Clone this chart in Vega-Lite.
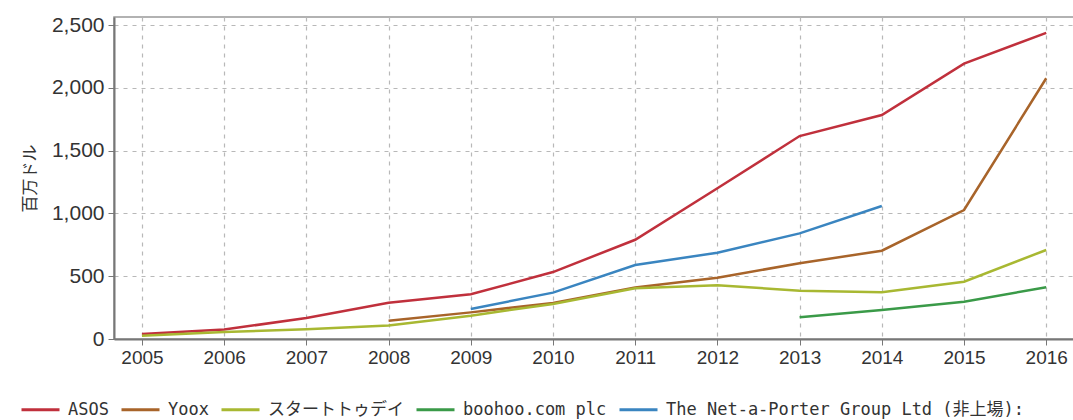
{
  "$schema": "https://vega.github.io/schema/vega-lite/v6.json",
  "autosize": {"type": "none"},
  "padding": {"left": 114, "top": 17, "right": 0, "bottom": 81},
  "width": 961,
  "height": 322,
  "background": "white",
  "config": {
    "font": "Liberation Sans, Noto Sans CJK JP, sans-serif",
    "view": {"stroke": "#999", "strokeWidth": 1.5}
  },
  "data": {
    "values": [
      {"year": 2005, "company": "ASOS", "value": 40},
      {"year": 2006, "company": "ASOS", "value": 75},
      {"year": 2007, "company": "ASOS", "value": 167},
      {"year": 2008, "company": "ASOS", "value": 289},
      {"year": 2009, "company": "ASOS", "value": 356},
      {"year": 2010, "company": "ASOS", "value": 533},
      {"year": 2011, "company": "ASOS", "value": 790},
      {"year": 2012, "company": "ASOS", "value": 1200},
      {"year": 2013, "company": "ASOS", "value": 1616},
      {"year": 2014, "company": "ASOS", "value": 1783},
      {"year": 2015, "company": "ASOS", "value": 2193},
      {"year": 2016, "company": "ASOS", "value": 2438},
      {"year": 2008, "company": "Yoox", "value": 146},
      {"year": 2009, "company": "Yoox", "value": 212},
      {"year": 2010, "company": "Yoox", "value": 287},
      {"year": 2011, "company": "Yoox", "value": 410},
      {"year": 2012, "company": "Yoox", "value": 488},
      {"year": 2013, "company": "Yoox", "value": 603},
      {"year": 2014, "company": "Yoox", "value": 703},
      {"year": 2015, "company": "Yoox", "value": 1027},
      {"year": 2016, "company": "Yoox", "value": 2076},
      {"year": 2005, "company": "スタートトゥデイ", "value": 25},
      {"year": 2006, "company": "スタートトゥデイ", "value": 55},
      {"year": 2007, "company": "スタートトゥデイ", "value": 78},
      {"year": 2008, "company": "スタートトゥデイ", "value": 108},
      {"year": 2009, "company": "スタートトゥデイ", "value": 186},
      {"year": 2010, "company": "スタートトゥデイ", "value": 279},
      {"year": 2011, "company": "スタートトゥデイ", "value": 404},
      {"year": 2012, "company": "スタートトゥデイ", "value": 428},
      {"year": 2013, "company": "スタートトゥデイ", "value": 385},
      {"year": 2014, "company": "スタートトゥデイ", "value": 372},
      {"year": 2015, "company": "スタートトゥデイ", "value": 456},
      {"year": 2016, "company": "スタートトゥデイ", "value": 709},
      {"year": 2013, "company": "boohoo.com plc", "value": 173},
      {"year": 2014, "company": "boohoo.com plc", "value": 231},
      {"year": 2015, "company": "boohoo.com plc", "value": 297},
      {"year": 2016, "company": "boohoo.com plc", "value": 412},
      {"year": 2009, "company": "The Net-a-Porter Group Ltd (非上場):", "value": 239},
      {"year": 2010, "company": "The Net-a-Porter Group Ltd (非上場):", "value": 369},
      {"year": 2011, "company": "The Net-a-Porter Group Ltd (非上場):", "value": 589},
      {"year": 2012, "company": "The Net-a-Porter Group Ltd (非上場):", "value": 687},
      {"year": 2013, "company": "The Net-a-Porter Group Ltd (非上場):", "value": 841},
      {"year": 2014, "company": "The Net-a-Porter Group Ltd (非上場):", "value": 1059}
    ]
  },
  "mark": {"type": "line", "strokeWidth": 2.5},
  "encoding": {
    "x": {
      "field": "year",
      "type": "quantitative",
      "scale": {"domain": [2004.66, 2016.35], "nice": false, "zero": false},
      "axis": {
        "title": null,
        "values": [2005, 2006, 2007, 2008, 2009, 2010, 2011, 2012, 2013, 2014, 2015, 2016],
        "format": "d",
        "labelFontSize": 19,
        "labelColor": "#333",
        "labelPadding": 3,
        "tickColor": "#777",
        "tickSize": 6,
        "domainColor": "#777",
        "domainWidth": 2,
        "grid": true,
        "gridColor": "#b8b8b8",
        "gridDash": [4, 5],
        "gridWidth": 1.2
      }
    },
    "y": {
      "field": "value",
      "type": "quantitative",
      "scale": {"domain": [0, 2564], "nice": false},
      "axis": {
        "title": "百万ドル",
        "titleFont": "Noto Sans CJK JP",
        "titleFontSize": 17,
        "titleFontWeight": "normal",
        "titleColor": "#333",
        "titlePadding": 12,
        "values": [0, 500, 1000, 1500, 2000, 2500],
        "format": ",d",
        "labelFontSize": 21,
        "labelColor": "#333",
        "labelPadding": 4,
        "tickColor": "#777",
        "tickSize": 6,
        "domainColor": "#777",
        "domainWidth": 2,
        "grid": true,
        "gridColor": "#b8b8b8",
        "gridDash": [4, 5],
        "gridWidth": 1.2
      }
    },
    "color": {
      "field": "company",
      "type": "nominal",
      "scale": {
        "domain": ["ASOS", "Yoox", "スタートトゥデイ", "boohoo.com plc", "The Net-a-Porter Group Ltd (非上場):"],
        "range": ["#c0303c", "#a8642a", "#a8b832", "#3a9a48", "#3a85c0"]
      },
      "legend": {
        "title": null,
        "orient": "none",
        "direction": "horizontal",
        "legendX": -94,
        "legendY": 372,
        "symbolType": "stroke",
        "symbolSize": 1444,
        "symbolStrokeWidth": 3,
        "labelFont": "DejaVu Sans Mono, Noto Sans CJK JP, monospace",
        "labelFontSize": 17,
        "labelColor": "#333",
        "labelOffset": 7,
        "columnPadding": 6,
        "labelLimit": 400
      }
    }
  }
}
